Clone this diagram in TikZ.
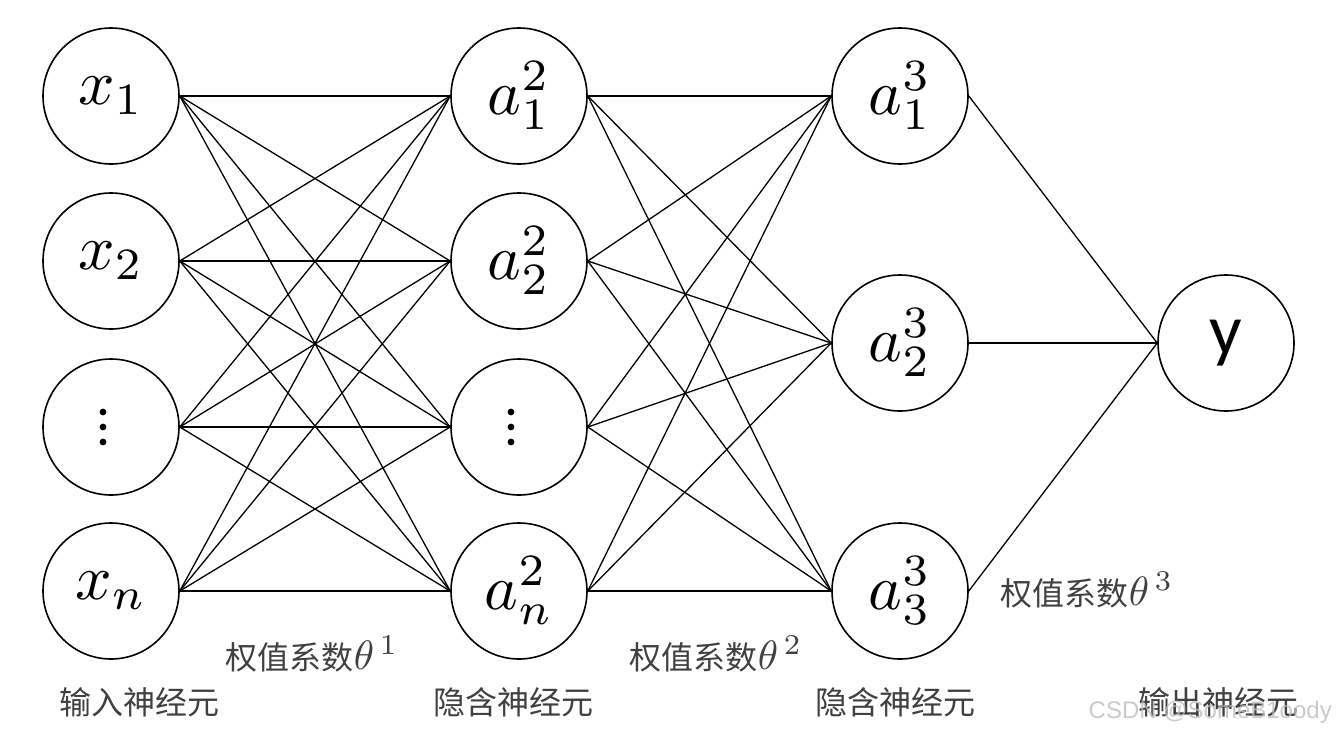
\documentclass[tikz,border=0pt]{standalone}
\usepackage{fontspec}
\usepackage{graphicx}
\newfontfamily\cjk{Noto Sans CJK SC}
\newfontfamily\carl{Carlito}
\newfontfamily\wmfont{Liberation Sans}
\definecolor{txtgray}{HTML}{404040}
\definecolor{wmgray}{HTML}{BDBDBD}
\newcommand{\nmath}[1]{\raisebox{-9pt}{\scalebox{6.4}{\fontsize{10}{12}\selectfont$#1$}}}
\newcommand{\thw}[1]{\scalebox{4.1}{\fontsize{10}{12}\selectfont$\theta^{\,#1}$}}
\begin{document}
\begin{tikzpicture}[x=1pt,y=-1pt,
  neuron/.style={circle, draw, line width=1.6pt, minimum size=136pt, inner sep=0pt},
  link/.style={line width=1.3pt},
  lbl/.style={font=\cjk\fontsize{32}{36}\selectfont, text=txtgray, inner sep=0pt},
  dotmark/.style={fill=black}]
\useasboundingbox (0,0) rectangle (1336,734);
% layer 1
\node[neuron] (x1) at (111,96)  {\nmath{x_1}};
\node[neuron] (x2) at (111,261) {\nmath{x_2}};
\node[neuron] (x3) at (111,427) {};
\node[neuron] (x4) at (111,591) {\nmath{x_n}};
% layer 2
\node[neuron] (a1) at (519,96)  {\nmath{a_1^2}};
\node[neuron] (a2) at (519,261) {\nmath{a_2^2}};
\node[neuron] (a3) at (519,427) {};
\node[neuron] (a4) at (519,591) {\nmath{a_n^2}};
% layer 3
\node[neuron] (b1) at (900,96)  {\nmath{a_1^3}};
\node[neuron] (b2) at (900,343) {\nmath{a_2^3}};
\node[neuron] (b3) at (900,591) {\nmath{a_3^3}};
% output
\node[neuron, font=\carl\fontsize{72}{76}\selectfont] (y) at (1226,343) {\raisebox{-8pt}{y}};
% vertical dots
\foreach \n in {x3,a3}
  \foreach \d in {-15,0,15}
    \fill[dotmark] (\n.center) ++(-8,\d) circle (3.4);
% connections
\foreach \i in {x1,x2,x3,x4}
  \foreach \j in {a1,a2,a3,a4}
    \draw[link] (\i.east) -- (\j.west);
\foreach \i in {a1,a2,a3,a4}
  \foreach \j in {b1,b2,b3}
    \draw[link] (\i.east) -- (\j.west);
\foreach \i in {b1,b2,b3}
  \draw[link] (\i.east) -- (y.west);
% labels
\node[lbl] (w1) at (312,654) {权值系数\thw{1}};
\node[lbl] (w2) at (716,654) {权值系数\thw{2}};
\node[lbl] (w3) at (1087,590) {权值系数\thw{3}};
\node[lbl] (l1) at (139,702) {输入神经元};
\node[lbl] (l2) at (513,702) {隐含神经元};
\node[lbl] (l3) at (895,702) {隐含神经元};
\node[lbl] (l4) at (1218,702) {输出神经元};
\node[font=\wmfont\fontsize{24}{26}\selectfont, text=wmgray, opacity=0.8, anchor=east, inner sep=0pt] (wm) at (1332,712) {CSDN @SomeB1oody};
\end{tikzpicture}
\end{document}
